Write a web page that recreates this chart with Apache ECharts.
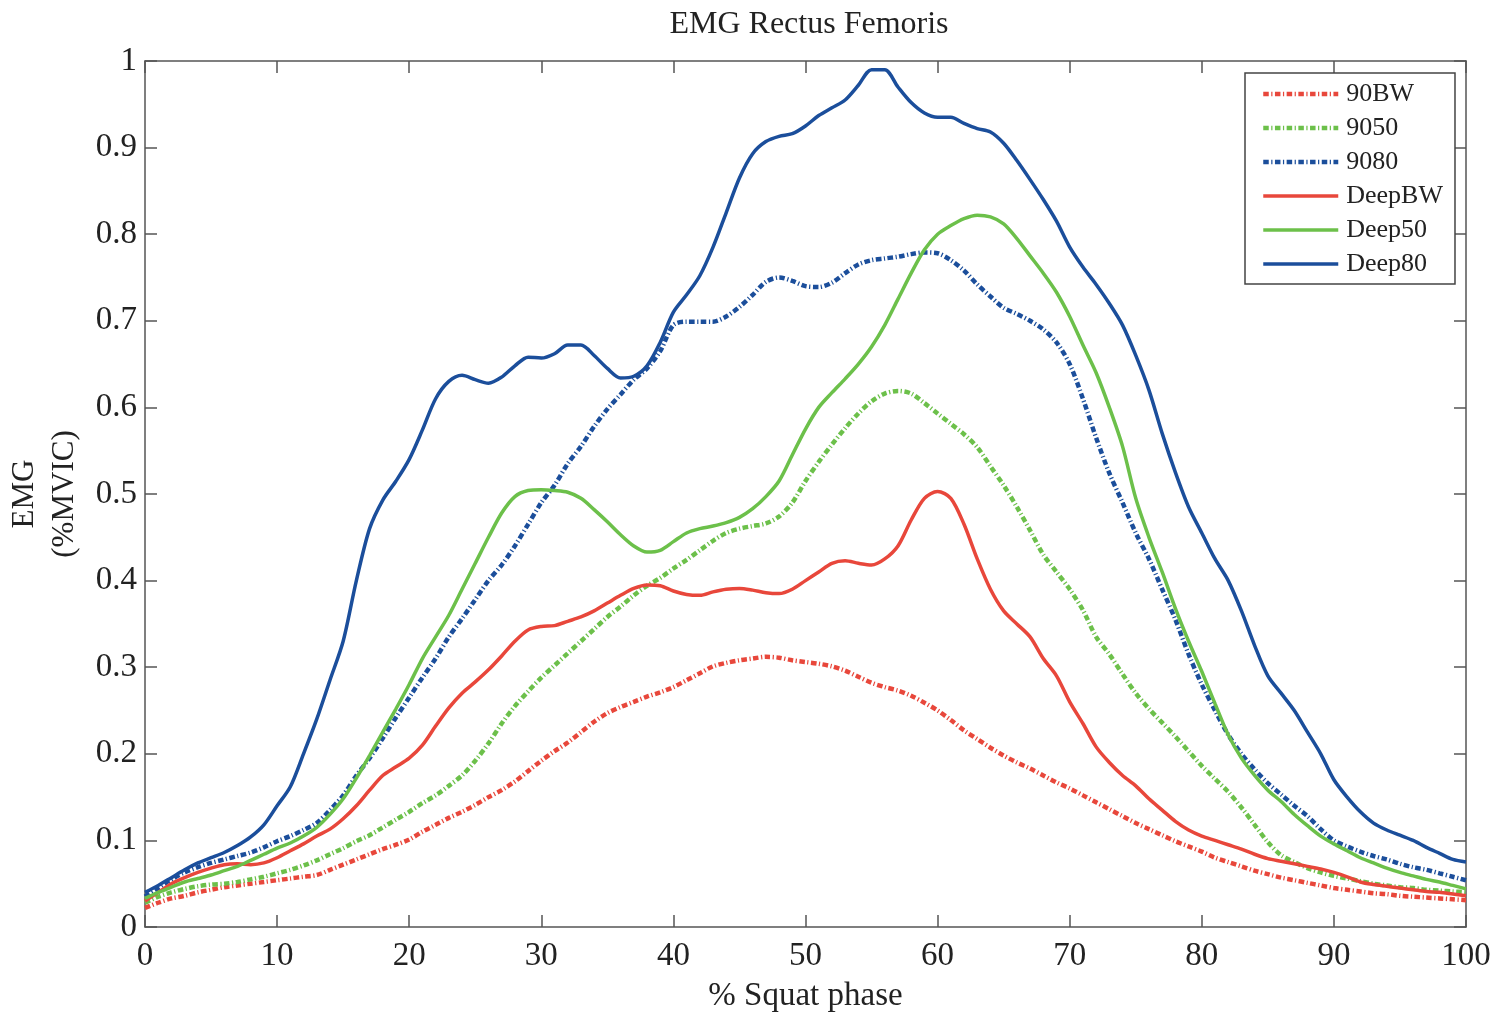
<!DOCTYPE html>
<html>
<head>
<meta charset="utf-8">
<script src="https://cdn.jsdelivr.net/npm/echarts@6/dist/echarts.min.js"></script>
<style>html,body{margin:0;padding:0;background:#fff}#c{width:1497px;height:1012px}</style>
</head>
<body>
<div id="c"></div>
<script>
// % Squat phase, 0..100 step 1
const phase = [0,1,2,3,4,5,6,7,8,9,10,11,12,13,14,15,16,17,18,19,20,21,22,23,24,25,26,27,28,29,30,31,32,33,34,35,36,37,38,39,40,41,42,43,44,45,46,47,48,49,50,51,52,53,54,55,56,57,58,59,60,61,62,63,64,65,66,67,68,69,70,71,72,73,74,75,76,77,78,79,80,81,82,83,84,85,86,87,88,89,90,91,92,93,94,95,96,97,98,99,100];

const s90BW = [0.022,0.028,0.033,0.036,0.040,0.043,0.046,0.048,0.050,0.052,0.054,0.056,0.058,0.060,0.066,0.072,0.078,0.084,0.090,0.095,0.101,0.110,0.118,0.126,0.133,0.141,0.150,0.158,0.168,0.180,0.192,0.203,0.213,0.225,0.237,0.247,0.254,0.260,0.266,0.271,0.277,0.285,0.293,0.301,0.305,0.308,0.310,0.312,0.311,0.308,0.306,0.304,0.301,0.296,0.289,0.282,0.277,0.273,0.267,0.259,0.250,0.239,0.227,0.217,0.207,0.198,0.190,0.183,0.175,0.167,0.160,0.152,0.144,0.136,0.128,0.120,0.113,0.106,0.099,0.093,0.087,0.080,0.075,0.070,0.065,0.061,0.057,0.054,0.051,0.048,0.045,0.043,0.041,0.039,0.038,0.036,0.035,0.034,0.033,0.032,0.031];

const s9050 = [0.028,0.035,0.040,0.044,0.047,0.049,0.050,0.052,0.055,0.058,0.062,0.066,0.071,0.077,0.084,0.091,0.099,0.106,0.115,0.124,0.133,0.143,0.152,0.163,0.175,0.192,0.212,0.235,0.255,0.272,0.288,0.302,0.316,0.330,0.344,0.358,0.370,0.383,0.394,0.403,0.414,0.424,0.435,0.446,0.455,0.460,0.463,0.466,0.474,0.490,0.515,0.537,0.557,0.576,0.593,0.607,0.616,0.619,0.616,0.605,0.593,0.581,0.569,0.554,0.532,0.510,0.485,0.458,0.430,0.410,0.390,0.366,0.335,0.315,0.292,0.270,0.252,0.236,0.220,0.203,0.186,0.171,0.156,0.138,0.118,0.098,0.083,0.075,0.068,0.063,0.059,0.056,0.053,0.050,0.048,0.046,0.045,0.043,0.042,0.041,0.040];

const s9080 = [0.035,0.045,0.055,0.063,0.069,0.074,0.078,0.082,0.086,0.092,0.099,0.105,0.112,0.120,0.135,0.152,0.175,0.195,0.218,0.242,0.265,0.288,0.310,0.335,0.356,0.378,0.400,0.418,0.440,0.465,0.490,0.510,0.535,0.555,0.578,0.598,0.615,0.632,0.645,0.665,0.695,0.699,0.699,0.699,0.705,0.716,0.730,0.745,0.750,0.746,0.740,0.739,0.744,0.755,0.765,0.770,0.772,0.774,0.777,0.779,0.778,0.770,0.758,0.742,0.728,0.715,0.708,0.700,0.690,0.675,0.650,0.610,0.565,0.524,0.490,0.455,0.425,0.390,0.355,0.315,0.280,0.250,0.222,0.200,0.182,0.166,0.153,0.140,0.128,0.113,0.100,0.093,0.087,0.082,0.078,0.073,0.069,0.066,0.062,0.058,0.054];

const sDeepBW = [0.030,0.040,0.050,0.057,0.063,0.068,0.072,0.073,0.072,0.074,0.080,0.088,0.096,0.105,0.113,0.125,0.140,0.158,0.175,0.185,0.195,0.210,0.232,0.253,0.270,0.283,0.297,0.313,0.330,0.343,0.347,0.348,0.353,0.358,0.365,0.374,0.383,0.391,0.395,0.394,0.388,0.384,0.383,0.387,0.390,0.391,0.389,0.386,0.385,0.390,0.400,0.410,0.420,0.423,0.420,0.418,0.425,0.440,0.470,0.495,0.503,0.495,0.465,0.425,0.390,0.365,0.350,0.335,0.310,0.290,0.260,0.235,0.208,0.190,0.175,0.163,0.148,0.135,0.122,0.112,0.105,0.100,0.095,0.090,0.084,0.079,0.076,0.073,0.070,0.067,0.063,0.058,0.052,0.049,0.047,0.045,0.043,0.041,0.040,0.038,0.036];

const sDeep50 = [0.033,0.040,0.046,0.052,0.056,0.060,0.065,0.070,0.077,0.084,0.091,0.097,0.105,0.115,0.130,0.148,0.172,0.198,0.225,0.252,0.280,0.310,0.335,0.360,0.390,0.420,0.450,0.478,0.497,0.504,0.505,0.504,0.502,0.495,0.482,0.468,0.453,0.440,0.433,0.435,0.445,0.455,0.460,0.463,0.467,0.473,0.483,0.497,0.515,0.545,0.575,0.600,0.617,0.633,0.650,0.670,0.695,0.725,0.755,0.782,0.800,0.810,0.818,0.822,0.820,0.812,0.795,0.775,0.755,0.733,0.705,0.672,0.640,0.600,0.555,0.495,0.450,0.410,0.368,0.330,0.295,0.258,0.222,0.195,0.175,0.158,0.145,0.130,0.117,0.105,0.096,0.088,0.080,0.074,0.068,0.063,0.059,0.055,0.052,0.048,0.044];

const sDeep80 = [0.040,0.048,0.057,0.066,0.074,0.080,0.086,0.094,0.104,0.118,0.140,0.162,0.200,0.240,0.285,0.330,0.400,0.460,0.493,0.515,0.540,0.574,0.610,0.630,0.637,0.632,0.628,0.635,0.648,0.658,0.657,0.662,0.672,0.672,0.660,0.645,0.634,0.636,0.648,0.675,0.710,0.730,0.752,0.785,0.825,0.865,0.893,0.907,0.913,0.916,0.925,0.937,0.946,0.955,0.972,0.990,0.990,0.970,0.952,0.940,0.935,0.935,0.928,0.922,0.918,0.905,0.885,0.863,0.840,0.815,0.785,0.762,0.742,0.720,0.695,0.660,0.620,0.570,0.525,0.485,0.455,0.425,0.400,0.365,0.325,0.290,0.270,0.250,0.225,0.200,0.170,0.150,0.133,0.120,0.112,0.106,0.100,0.092,0.085,0.078,0.075];

const seriesNames = ['90BW','9050','9080','DeepBW','Deep50','Deep80'];
const seriesValues = [s90BW, s9050, s9080, sDeepBW, sDeep50, sDeep80];

const RED = '#e8473b', GREEN = '#6cc04a', BLUE = '#1b4e9b';
const colors = [RED, GREEN, BLUE, RED, GREEN, BLUE];
const dashed = [true, true, true, false, false, false];
const DASH = [5.5, 2.5, 1.2, 2.5];

const FONT = '"Liberation Serif", "Times New Roman", serif';
const AX = '#555';
const TXT = '#222';

const chart = echarts.init(document.getElementById('c'), null, {renderer: 'canvas'});

const series = seriesNames.map((n, i) => ({
  name: n,
  type: 'line',
  showSymbol: false,
  symbol: 'none',
  smooth: 0.3,
  data: phase.map((x, k) => [x, seriesValues[i][k]]),
  lineStyle: {
    color: colors[i],
    width: dashed[i] ? 4.5 : 3.5,
    type: dashed[i] ? DASH : 'solid'
  },
  itemStyle: {color: colors[i]},
  z: dashed[i] ? 2 : 3
}));

const axisCommon = {
  type: 'value',
  axisLine: {show: true, onZero: false, lineStyle: {color: AX, width: 1.5}},
  axisTick: {show: true, inside: true, length: 12, lineStyle: {color: AX, width: 1.5}},
  splitLine: {show: false}
};

chart.setOption({
  animation: false,
  backgroundColor: '#fff',
  textStyle: {fontFamily: FONT},
  title: {
    text: 'EMG Rectus Femoris',
    left: 804, textAlign: 'center', top: 4,
    textStyle: {fontFamily: FONT, fontSize: 32, fontWeight: 'normal', color: TXT}
  },
  grid: {left: 145, right: 31, top: 61, bottom: 85, containLabel: false, outerBoundsMode: 'none'},
  legend: {
    orient: 'vertical',
    left: 1245, top: 73,
    data: seriesNames,
    itemWidth: 75, itemHeight: 12, itemGap: 8,
    padding: [8, 12, 7, 16],
    backgroundColor: '#fff',
    borderColor: '#444', borderWidth: 1.5, borderRadius: 0,
    itemStyle: {opacity: 0},
    lineStyle: {width: 'inherit', type: 'inherit', color: 'inherit'},
    textStyle: {fontFamily: FONT, fontSize: 26, color: TXT, padding: [0, 0, 0, 3]}
  },
  xAxis: [
    Object.assign({}, axisCommon, {
      position: 'bottom', min: 0, max: 100, interval: 10,
      axisLabel: {show: true, margin: 13, fontFamily: FONT, fontSize: 33, color: TXT},
      name: '% Squat phase', nameLocation: 'middle', nameGap: 53,
      nameTextStyle: {fontFamily: FONT, fontSize: 33, color: TXT}
    }),
    Object.assign({}, axisCommon, {
      position: 'top', min: 0, max: 100, interval: 10,
      axisLabel: {show: false}
    })
  ],
  yAxis: [
    Object.assign({}, axisCommon, {
      position: 'left', min: 0, max: 1, interval: 0.1,
      axisLabel: {show: true, margin: 8, fontFamily: FONT, fontSize: 33, color: TXT,
        formatter: v => String(Math.round(v * 10) / 10)},
      name: 'EMG\n(%MVIC)', nameLocation: 'middle', nameGap: 48, nameRotate: 90,
      nameTextStyle: {fontFamily: FONT, fontSize: 31, color: TXT, lineHeight: 40}
    }),
    Object.assign({}, axisCommon, {
      position: 'right', min: 0, max: 1, interval: 0.1,
      axisLabel: {show: false}
    })
  ],
  series: series
});
</script>
</body>
</html>
